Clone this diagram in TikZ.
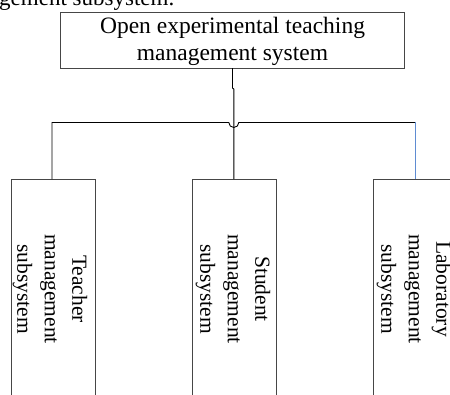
\documentclass[tikz,border=0pt]{standalone}
\usepackage{fontspec}
\setmainfont{Liberation Serif}
\definecolor{boxline}{RGB}{70,70,70}
\definecolor{lineblue}{RGB}{95,140,210}
\tikzset{
  sysbox/.style={draw=boxline, line width=0.9pt},
  conn/.style={draw=black, line width=0.9pt},
  subtext/.style={rotate=-90, align=center, font=\fontsize{21.5}{27.5}\selectfont, inner sep=0pt}
}
\begin{document}
\begin{tikzpicture}[x=1pt,y=-1pt]
\useasboundingbox (0,0) rectangle (450,394);
\clip (0,0) rectangle (450,394);
% partial caption text at the top
\node[anchor=base west, inner sep=0pt, font=\fontsize{23}{27}\selectfont] (cap) at (-1,5) {gement subsystem.};
% top box
\draw[sysbox] (60,12) rectangle (404.5,68);
\node[align=center, inner sep=0pt, font=\fontsize{23.5}{27}\selectfont] (top) at (232.5,41) {Open experimental teaching\\management system};
\coordinate (topb) at (232.5,68);
% sub boxes
\draw[sysbox] (11,179) rectangle (95,400);
\draw[sysbox] (192,179) rectangle (276,400);
\draw[sysbox] (373,179) rectangle (460,400);
\coordinate (ta) at (52,179);
\coordinate (sa) at (233.8,179);
\coordinate (la) at (415.3,179);
\node[subtext] (teacher) at (50,289) {Teacher\\management\\subsystem};
\node[subtext] (student) at (233,289) {Student\\management\\subsystem};
\node[subtext] (lab) at (414,289) {Laboratory\\management\\subsystem};
% connectors
\draw[conn] (topb) -- (232.5,88) -- (233.8,89) -- (sa);
\draw[conn] (ta) -- (52,122.5) -- (228.8,122.5) arc[start angle=180, end angle=0, radius=5] -- (415,122.5);
\draw[draw=lineblue, line width=0.9pt] (415.3,122) -- (la);
\end{tikzpicture}
\end{document}
